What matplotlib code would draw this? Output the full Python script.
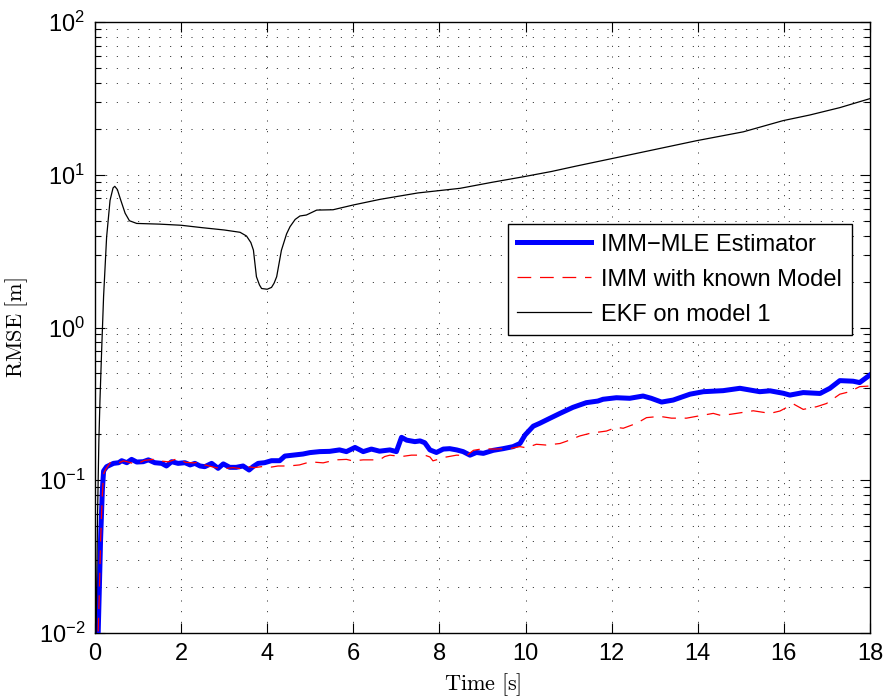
import matplotlib
matplotlib.use("Agg")
import matplotlib.pyplot as plt
from matplotlib.ticker import LogLocator, NullFormatter, FixedLocator

plt.rcParams["font.family"] = ["Liberation Sans", "DejaVu Sans"]
plt.rcParams["mathtext.fontset"] = "custom"
plt.rcParams["mathtext.rm"] = "Liberation Sans"
plt.rcParams["mathtext.default"] = "regular"

# EKF on model 1
t_ekf = [0.0, 0.03, 0.06, 0.09, 0.116, 0.155, 0.2, 0.27, 0.35, 0.42, 0.46, 0.52,
         0.6, 0.7, 0.8, 0.97, 1.5, 2.0, 2.5, 3.0, 3.37, 3.52, 3.62, 3.68, 3.75,
         3.82, 3.87, 4.0, 4.1, 4.16, 4.22, 4.33, 4.45, 4.53, 4.65, 4.76, 4.91,
         5.15, 5.53, 6.0, 6.62, 7.5, 8.48, 9.2, 9.95, 10.6, 11.18, 12.42, 13.97,
         15.06, 15.98, 16.6, 17.3, 18.0]
rmse_ekf = [0.003, 0.012, 0.06, 0.18, 0.335, 0.71, 1.6, 3.9, 6.8, 8.2, 8.4, 8.0,
            6.8, 5.6, 5.0, 4.8, 4.75, 4.67, 4.5, 4.35, 4.2, 3.97, 3.6, 3.21, 2.15,
            1.9, 1.8, 1.78, 1.83, 1.95, 2.15, 3.2, 4.1, 4.57, 5.1, 5.37, 5.45,
            5.87, 5.9, 6.34, 6.9, 7.6, 8.15, 8.9, 9.7, 10.5, 11.4, 13.5, 16.7,
            19.1, 22.6, 24.6, 27.5, 31.5]

# IMM-MLE estimator
t_mle = [0.0, 0.05, 0.07, 0.1, 0.13, 0.17, 0.2, 0.27, 0.43, 0.55, 0.62, 0.74,
         0.85, 0.97, 1.12, 1.24, 1.39, 1.55, 1.66, 1.78, 1.93, 2.09, 2.21, 2.32,
         2.44, 2.55, 2.71, 2.86, 2.98, 3.13, 3.28, 3.44, 3.58, 3.67, 3.79, 3.94,
         4.1, 4.29, 4.41, 4.6, 4.83, 4.99, 5.22, 5.45, 5.68, 5.84, 6.04, 6.23,
         6.42, 6.61, 6.85, 7.0, 7.12, 7.24, 7.43, 7.55, 7.66, 7.78, 7.93, 8.09,
         8.24, 8.4, 8.55, 8.71, 8.86, 9.02, 9.25, 9.48, 9.71, 9.87, 9.99, 10.18,
         10.33, 10.56, 10.8, 11.1, 11.41, 11.68, 11.8, 12.11, 12.42, 12.73,
         12.92, 13.16, 13.43, 13.82, 14.13, 14.59, 14.98, 15.44, 15.68, 15.99,
         16.14, 16.45, 16.84, 17.07, 17.3, 17.61, 17.76, 18.0]
rmse_mle = [0.001, 0.006, 0.009, 0.019, 0.041, 0.085, 0.115, 0.1227, 0.129,
            0.1303, 0.1343, 0.1303, 0.137, 0.1316, 0.1323, 0.136, 0.1303, 0.129,
            0.124, 0.1323, 0.129, 0.1303, 0.126, 0.129, 0.124, 0.1227, 0.129,
            0.1197, 0.128, 0.1215, 0.1215, 0.124, 0.1167, 0.1227, 0.129, 0.1303,
            0.1343, 0.1343, 0.144, 0.146, 0.1485, 0.1517, 0.154, 0.1546, 0.158,
            0.154, 0.164, 0.154, 0.160, 0.155, 0.158, 0.154, 0.191, 0.183, 0.179,
            0.181, 0.176, 0.158, 0.152, 0.160, 0.161, 0.158, 0.154, 0.146, 0.152,
            0.150, 0.157, 0.161, 0.166, 0.174, 0.198, 0.226, 0.236, 0.254, 0.274,
            0.300, 0.322, 0.330, 0.339, 0.347, 0.344, 0.356, 0.344, 0.325, 0.335,
            0.366, 0.380, 0.386, 0.400, 0.380, 0.385, 0.371, 0.361, 0.375, 0.370,
            0.400, 0.449, 0.445, 0.436, 0.489]

# IMM with known model
t_imm = [0.0, 0.05, 0.1, 0.13, 0.17, 0.2, 0.25, 0.35, 0.5, 0.66, 0.8, 0.95, 1.15,
         1.35, 1.5, 1.7, 1.93, 2.1, 2.3, 2.45, 2.55, 2.8, 3.0, 3.2, 3.4, 3.55,
         3.7, 3.9, 4.1, 4.25, 4.5, 4.75, 5.0, 5.3, 5.6, 5.84, 6.0, 6.11, 6.23,
         6.61, 6.73, 6.85, 7.12, 7.35, 7.66, 7.78, 7.85, 8.16, 8.4, 8.63, 8.79,
         9.02, 9.25, 9.63, 9.87, 10.02, 10.25, 10.48, 10.8, 10.95, 11.26, 11.5,
         11.88, 12.11, 12.27, 12.58, 12.81, 13.12, 13.39, 13.74, 13.97, 14.36,
         14.55, 14.9, 15.29, 15.68, 15.91, 16.22, 16.45, 16.76, 16.99, 17.3,
         17.53, 17.76, 18.0]
rmse_imm = [0.001, 0.006, 0.018, 0.04, 0.08, 0.11, 0.118, 0.13, 0.128, 0.134,
            0.131, 0.127, 0.135, 0.137, 0.134, 0.132, 0.139, 0.131, 0.13, 0.132,
            0.126, 0.121, 0.119, 0.121, 0.119, 0.123, 0.121, 0.123, 0.122, 0.124,
            0.124, 0.126, 0.132, 0.13, 0.136, 0.137, 0.1336, 0.135, 0.136, 0.136,
            0.143, 0.146, 0.143, 0.146, 0.146, 0.142, 0.134, 0.142, 0.146, 0.145,
            0.157, 0.161, 0.160, 0.161, 0.166, 0.163, 0.172, 0.170, 0.174, 0.180,
            0.195, 0.203, 0.210, 0.222, 0.219, 0.236, 0.257, 0.262, 0.255, 0.255,
            0.262, 0.274, 0.265, 0.274, 0.285, 0.274, 0.284, 0.316, 0.291, 0.303,
            0.318, 0.366, 0.380, 0.410, 0.414]

x_ticks = [0, 2, 4, 6, 8, 10, 12, 14, 16, 18]

fig = plt.figure(figsize=(8.86, 6.98), dpi=100)
ax = fig.add_axes([0.1072, 0.0931, 0.8747, 0.8754])

ax.plot(t_mle, rmse_mle, color=(0, 0, 1), lw=3.6, label="IMM\u2212MLE Estimator",
        solid_joinstyle="round", zorder=3)
ax.plot(t_imm, rmse_imm, color=(1, 0, 0), lw=0.9, dashes=(11, 7),
        label="IMM with known Model", zorder=4)
ax.plot(t_ekf, rmse_ekf, color="black", lw=0.9, label="EKF on model 1", zorder=3)

ax.set_yscale("log")
ax.set_xlim(0, 18)
ax.set_ylim(1e-2, 1e2)
ax.xaxis.set_major_locator(FixedLocator(x_ticks))
ax.yaxis.set_major_locator(LogLocator(base=10, numticks=10))
ax.yaxis.set_minor_locator(LogLocator(base=10, subs=range(2, 10), numticks=20))
ax.yaxis.set_minor_formatter(NullFormatter())

ax.tick_params(which="both", direction="in", top=True, right=True, labelsize=17,
               width=0.8, color="black")
ax.tick_params(which="major", length=7, pad=7)
ax.tick_params(which="minor", length=4)

grid_style = dict(color="black", lw=0.6, linestyle=(0, (1.2, 11.6)))
ax.grid(True, which="major", axis="both", **grid_style)
ax.grid(True, which="minor", axis="y", **grid_style)
ax.set_axisbelow(True)

for sp in ax.spines.values():
    sp.set_linewidth(1.0)

ax.set_xlabel(r"$\mathrm{Time\ [s]}$", fontsize=16, labelpad=5,
              math_fontfamily="cm")
ax.set_ylabel(r"$\mathrm{RMSE\ [m]}$", fontsize=16, labelpad=6,
              math_fontfamily="cm")

leg = ax.legend(loc="upper left", bbox_to_anchor=(0.533, 0.669), fontsize=17,
                frameon=True, fancybox=False, edgecolor="black", framealpha=1,
                handlelength=3.1, handletextpad=0.45, borderpad=0.4,
                labelspacing=0.55, borderaxespad=0)
leg.get_frame().set_linewidth(1.0)

fig.savefig("out.png", dpi=100)
